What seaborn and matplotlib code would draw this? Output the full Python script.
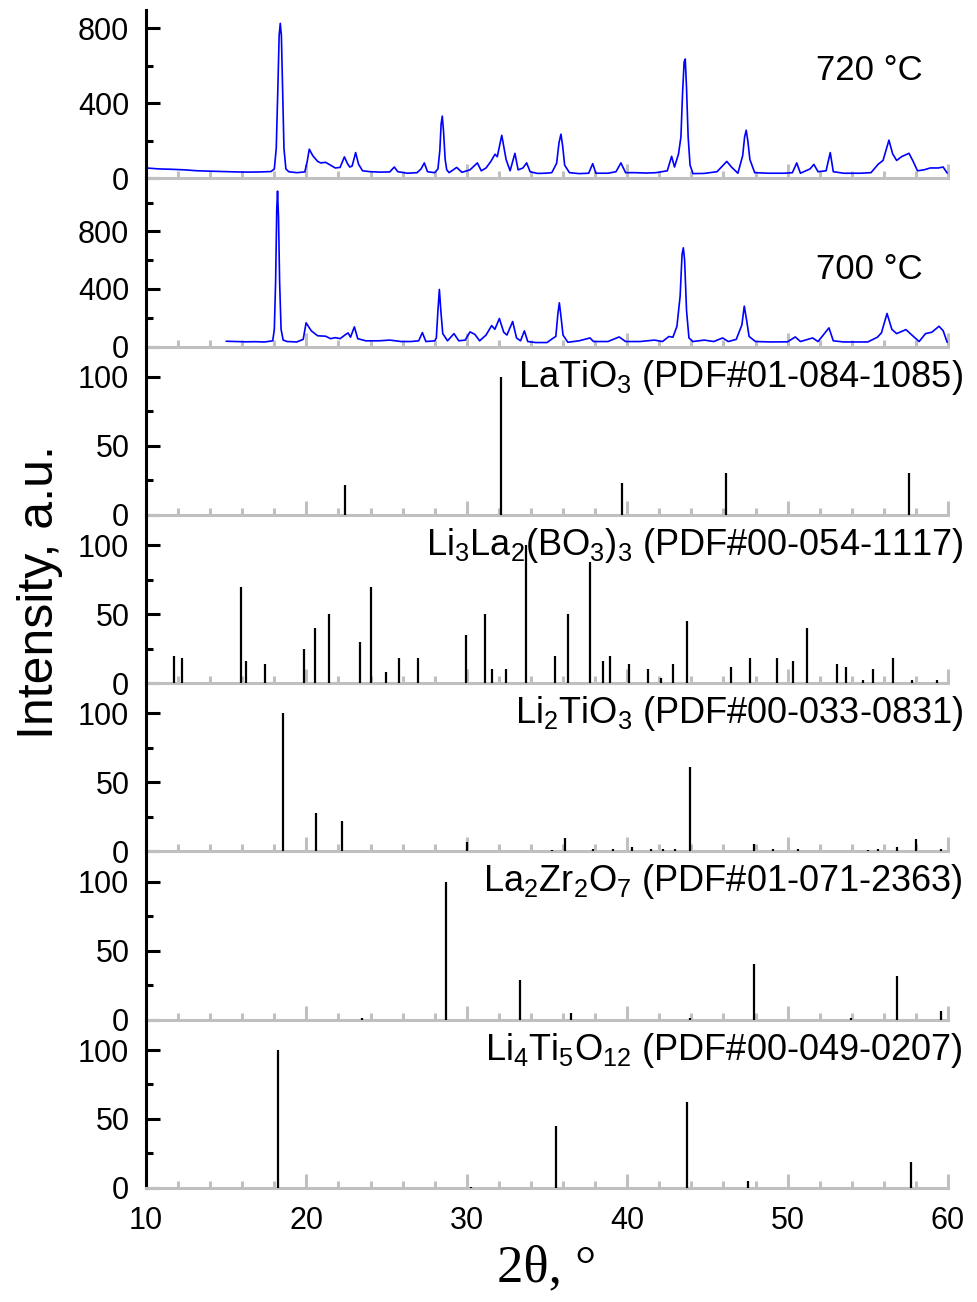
import matplotlib
matplotlib.use("Agg")
import matplotlib.pyplot as plt
from matplotlib.ticker import MultipleLocator
import pandas as pd
import seaborn as sns

pat_720 = [(10.0, 55), (10.8, 50), (11.6, 48), (12.4, 45), (13.2, 40), (14.0, 38), (14.8, 36), (15.6, 34),
           (16.4, 33), (17.2, 34), (17.8, 36), (18.0, 50), (18.12, 160), (18.22, 480), (18.3, 760),
           (18.37, 825), (18.44, 760), (18.52, 450), (18.6, 160), (18.72, 50), (18.9, 35), (19.4, 30),
           (19.9, 34), (20.05, 90), (20.18, 155), (20.4, 120), (20.7, 90), (20.9, 82), (21.2, 85), (21.5, 70),
           (21.8, 55), (22.1, 58), (22.37, 114), (22.55, 80), (22.7, 60), (22.85, 65), (23.07, 137),
           (23.25, 75), (23.5, 40), (24.0, 35), (24.6, 33), (25.2, 34), (25.48, 60), (25.7, 35), (26.3, 27),
           (26.9, 30), (27.15, 50), (27.35, 82), (27.55, 35), (28.0, 30), (28.2, 50), (28.32, 150),
           (28.4, 290), (28.47, 331), (28.55, 250), (28.65, 100), (28.75, 45), (28.9, 30), (29.37, 58),
           (29.7, 32), (30.2, 45), (30.66, 82), (30.9, 40), (31.2, 55), (31.5, 90), (31.76, 128), (31.9, 115),
           (32.18, 229), (32.45, 100), (32.7, 40), (33.0, 133), (33.2, 45), (33.5, 55), (33.73, 82),
           (33.95, 35), (34.4, 26), (34.9, 27), (35.3, 30), (35.6, 80), (35.75, 190), (35.87, 235),
           (35.98, 170), (36.1, 70), (36.4, 30), (37.0, 25), (37.6, 27), (37.85, 78), (38.05, 27), (38.8, 27),
           (39.3, 35), (39.61, 82), (39.9, 30), (40.5, 30), (41.2, 28), (41.8, 30), (42.5, 40), (42.77, 117),
           (42.95, 60), (43.2, 130), (43.35, 220), (43.45, 450), (43.55, 620), (43.62, 635), (43.7, 480),
           (43.8, 220), (43.92, 70), (44.1, 25), (44.8, 26), (45.6, 35), (46.21, 90), (46.5, 60), (46.9, 27),
           (47.2, 120), (47.32, 220), (47.42, 256), (47.52, 200), (47.65, 100), (47.95, 30), (48.8, 27),
           (49.8, 27), (50.3, 30), (50.57, 82), (50.8, 27), (51.4, 50), (51.64, 74), (51.9, 35), (52.4, 40),
           (52.66, 137), (52.85, 35), (53.5, 27), (54.5, 27), (55.2, 30), (55.65, 75), (55.95, 95),
           (56.32, 203), (56.55, 130), (56.8, 95), (57.1, 115), (57.57, 133), (57.8, 95), (58.1, 40),
           (58.5, 45), (58.9, 55), (59.4, 55), (59.7, 60), (59.95, 28)]

pat_700 = [(15.0, 37), (15.6, 35), (16.2, 33), (16.8, 34), (17.4, 32), (17.9, 40), (18.0, 120), (18.08, 450),
           (18.15, 950), (18.2, 1080), (18.26, 900), (18.33, 450), (18.42, 120), (18.55, 45), (18.8, 35),
           (19.4, 32), (19.8, 50), (19.98, 165), (20.3, 110), (20.7, 75), (21.2, 72), (21.5, 55), (21.8, 62),
           (22.1, 55), (22.4, 80), (22.6, 95), (22.75, 65), (22.99, 137), (23.2, 55), (23.7, 40), (24.5, 40),
           (25.2, 45), (25.9, 35), (26.5, 35), (27.0, 40), (27.23, 97), (27.45, 35), (28.0, 40), (28.1, 60),
           (28.2, 250), (28.29, 397), (28.38, 250), (28.5, 90), (28.8, 40), (29.2, 90), (29.5, 40), (29.9, 45),
           (30.2, 102), (30.5, 85), (30.8, 40), (31.2, 80), (31.55, 146), (31.75, 120), (32.03, 195),
           (32.3, 100), (32.5, 80), (32.86, 174), (33.1, 60), (33.35, 40), (33.59, 109), (33.8, 35),
           (34.3, 28), (35.0, 28), (35.4, 60), (35.55, 70), (35.68, 230), (35.77, 304), (35.86, 220),
           (36.0, 80), (36.3, 30), (37.0, 40), (37.68, 60), (37.9, 35), (38.8, 35), (39.5, 67), (39.9, 35),
           (40.8, 35), (41.7, 45), (42.2, 35), (42.6, 70), (42.85, 65), (43.1, 140), (43.3, 350), (43.42, 640),
           (43.5, 686), (43.58, 600), (43.7, 250), (43.85, 60), (44.1, 35), (44.8, 45), (45.4, 35),
           (45.95, 60), (46.3, 35), (46.8, 50), (47.15, 150), (47.3, 281), (47.45, 180), (47.6, 70),
           (48.0, 35), (49.0, 32), (50.0, 33), (50.48, 67), (50.8, 35), (51.56, 60), (51.9, 35), (52.58, 130),
           (52.85, 40), (53.5, 32), (55.0, 32), (55.6, 65), (55.85, 95), (56.2, 230), (56.5, 120), (56.8, 90),
           (57.38, 118), (57.7, 85), (58.2, 35), (58.6, 90), (59.0, 100), (59.44, 141), (59.7, 110),
           (59.95, 30)]

# reference cards (stick patterns)
pos_latio3 = [22.41, 32.13, 39.68, 46.16, 57.57]
int_latio3 = [22, 100, 23, 30, 30]

pos_lilabo = [11.77, 12.22, 15.90, 16.23, 17.44, 19.83, 20.54, 21.39, 23.36, 24.01, 24.94, 25.79, 26.96,
              29.95, 31.12, 31.57, 32.46, 33.67, 35.48, 36.33, 37.68, 38.51, 38.93, 40.13, 41.32, 42.09,
              42.88, 43.71, 46.49, 47.66, 49.32, 50.36, 51.19, 53.06, 53.64, 54.72, 55.30, 56.55, 57.74, 59.30]
int_lilabo = [20, 18, 70, 16, 14, 25, 40, 50, 30, 70, 8, 18, 18,
              35, 50, 10, 10, 100, 20, 50, 88, 16, 20, 14, 10, 4,
              14, 45, 12, 18, 18, 16, 40, 14, 12, 2, 10, 18, 2, 2]

pos_li2tio3 = [18.51, 20.57, 22.21, 30.04, 35.30, 36.11, 37.88, 39.13, 40.31, 41.49, 42.24, 42.99, 43.92,
               47.88, 49.06, 50.63, 55.02, 55.61, 56.83, 58.00, 59.54]
int_li2tio3 = [100, 28, 22, 7, 1, 10, 2, 2, 3, 2, 2, 2, 61,
               5, 2, 2, 1, 2, 3, 9, 2]

pos_la2zr2o7 = [23.46, 28.73, 33.32, 36.50, 43.92, 47.91, 53.94, 56.80, 59.54]
int_la2zr2o7 = [1, 100, 29, 5, 1.5, 40, 1, 32, 6.5]

pos_li4ti5o12 = [18.25, 30.27, 35.59, 43.72, 47.55, 57.68]
int_li4ti5o12 = [100, 1, 45, 62, 5, 19]

sample_labels = ["720 \u00b0C", "700 \u00b0C"]
card_labels = ["LaTiO$_3$ (PDF#01-084-1085)",
               "Li$_3$La$_2$(BO$_3$)$_3$ (PDF#00-054-1117)",
               "Li$_2$TiO$_3$ (PDF#00-033-0831)",
               "La$_2$Zr$_2$O$_7$ (PDF#01-071-2363)",
               "Li$_4$Ti$_5$O$_{12}$ (PDF#00-049-0207)"]

sns.set_theme(style="white")
plt.rcParams["font.family"] = ["Liberation Sans", "DejaVu Sans"]
plt.rcParams["mathtext.fontset"] = "custom"
plt.rcParams["mathtext.rm"] = "Liberation Sans"
plt.rcParams["mathtext.default"] = "regular"
plt.rcParams["text.color"] = "black"

fig, axes = plt.subplots(7, 1, figsize=(9.78, 13.02), dpi=100, sharex=True)
fig.subplots_adjust(left=0.1493, right=0.9693, bottom=0.0876, top=0.9923, hspace=0)

# sample patterns
df720 = pd.DataFrame(pat_720, columns=["tt", "I"])
df700 = pd.DataFrame(pat_700, columns=["tt", "I"])
sns.lineplot(data=df720, x="tt", y="I", ax=axes[0], color="#0000ff", lw=1.2, estimator=None, sort=False)
sns.lineplot(data=df700, x="tt", y="I", ax=axes[1], color="#0000ff", lw=1.2, estimator=None, sort=False)
axes[0].set_ylim(0, 896)
axes[1].set_ylim(0, 1169)
for ax, lab, yy in zip(axes[:2], sample_labels, [0.643, 0.458]):
    ax.yaxis.set_major_locator(MultipleLocator(400))
    ax.yaxis.set_minor_locator(MultipleLocator(200))
    ax.text(0.968, yy, lab, transform=ax.transAxes, ha="right", va="center", fontsize=25, color="black")

# reference cards
cards = [(pos_latio3, int_latio3), (pos_lilabo, int_lilabo), (pos_li2tio3, int_li2tio3),
         (pos_la2zr2o7, int_la2zr2o7), (pos_li4ti5o12, int_li4ti5o12)]
for ax, (p, h), lab in zip(axes[2:], cards, card_labels):
    ax.vlines(p, 0, h, color="black", lw=1.6, zorder=3)
    ax.set_ylim(0, 122)
    ax.yaxis.set_major_locator(MultipleLocator(50))
    ax.yaxis.set_minor_locator(MultipleLocator(25))
    ax.text(1.019, 0.935, lab, transform=ax.transAxes, ha="right", va="top", fontsize=26, color="black",
            zorder=2)

for ax in axes:
    ax.set_xlim(10, 60)
    ax.set_xlabel("")
    ax.set_ylabel("")
    ax.patch.set_alpha(0)
    ax.spines["top"].set_visible(False)
    ax.spines["right"].set_visible(False)
    ax.spines["left"].set_color("black")
    ax.spines["left"].set_linewidth(2.2)
    ax.spines["bottom"].set_color("#c0c0c0")
    ax.spines["bottom"].set_linewidth(2.2)
    ax.xaxis.set_major_locator(MultipleLocator(10))
    ax.xaxis.set_minor_locator(MultipleLocator(2))
    ax.tick_params(axis="x", which="major", direction="in", length=10, width=2.2, color="#c0c0c0",
                   bottom=True, labelbottom=False)
    ax.tick_params(axis="x", which="minor", direction="in", length=5, width=2.2, color="#c0c0c0", bottom=True)
    ax.tick_params(axis="y", which="major", direction="in", length=10, width=2.2, color="black",
                   left=True, labelsize=22, pad=12, labelcolor="black")
    ax.tick_params(axis="y", which="minor", direction="in", length=5, width=2.2, color="black", left=True)

axes[-1].tick_params(axis="x", which="major", labelbottom=True, labelsize=22, pad=13, labelcolor="black")

fig.text(0.5593, 0.026, "2\u03b8, \u00b0", ha="center", va="center", fontsize=38,
         family="Liberation Serif", color="black")
fig.text(0.041, 0.545, "Intensity, a.u.", rotation=90, ha="center", va="center", fontsize=36, color="black")

fig.savefig("out.png", dpi=100)
